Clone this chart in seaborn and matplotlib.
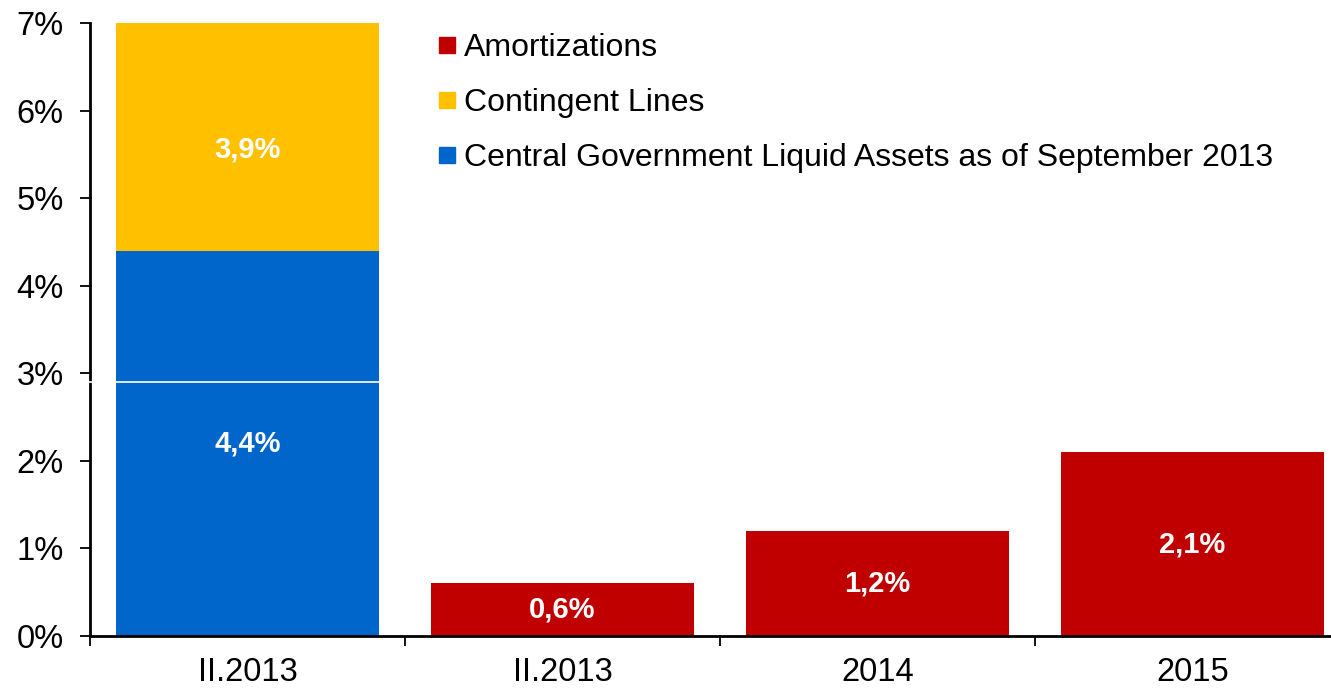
import numpy as np
import pandas as pd
import matplotlib
matplotlib.use("Agg")
import matplotlib.pyplot as plt
from matplotlib.lines import Line2D
import seaborn as sns

# Chart data (percent of GDP)
periods = ["II.2013", "II.2013", "2014", "2015"]
liquid_assets = [4.4, 0.0, 0.0, 0.0]
contingent_lines = [3.9, 0.0, 0.0, 0.0]
amortizations = [0.0, 0.6, 1.2, 2.1]
y_ticks = [0, 1, 2, 3, 4, 5, 6, 7]

series_names = ["Amortizations", "Contingent Lines",
                "Central Government Liquid Assets as of September 2013"]
colors = {"Amortizations": "#C00000", "Contingent Lines": "#FFC000",
          "Central Government Liquid Assets as of September 2013": "#0066CC"}

sns.set_theme(style="white")
plt.rcParams["font.family"] = ["Liberation Sans", "DejaVu Sans"]
plt.rcParams["text.color"] = "black"
plt.rcParams["xtick.color"] = "black"
plt.rcParams["ytick.color"] = "black"

slot = [str(i) for i in range(len(periods))]
df = pd.DataFrame({
    "slot": slot,
    "liquid": liquid_assets,
    "stack_top": np.array(liquid_assets) + np.array(contingent_lines),
    "amort": amortizations,
})

fig = plt.figure(figsize=(13.31, 6.91), dpi=100)
ax = fig.add_axes([90 / 1331, 1 - 636 / 691, 1260 / 1331, 613 / 691])

bw = 0.835
bar_kw = dict(order=slot, width=bw, saturation=1, ax=ax, zorder=2, linewidth=0)
sns.barplot(data=df, x="slot", y="stack_top", color=colors["Contingent Lines"], **bar_kw)
sns.barplot(data=df, x="slot", y="liquid",
            color=colors["Central Government Liquid Assets as of September 2013"], **bar_kw)
sns.barplot(data=df, x="slot", y="amort", color=colors["Amortizations"], **bar_kw)

ymax = 7
ax.set_ylim(0, ymax)
ax.set_xlim(-0.5, 3.5)

# value labels
lab_kw = dict(ha="center", va="center", color="white", fontsize=21, fontweight="bold", zorder=4)
for i in range(len(periods)):
    if liquid_assets[i] > 0:
        ax.text(i, liquid_assets[i] / 2, f"{liquid_assets[i]:.1f}%".replace(".", ","), **lab_kw)
    if contingent_lines[i] > 0:
        top = min(liquid_assets[i] + contingent_lines[i], ymax)
        ax.text(i, liquid_assets[i] + (top - liquid_assets[i]) / 2 - 0.15,
                f"{contingent_lines[i]:.1f}%".replace(".", ","), **lab_kw)
    if amortizations[i] > 0:
        ax.text(i, amortizations[i] / 2, f"{amortizations[i]:.1f}%".replace(".", ","), **lab_kw)

# thin white divider
ax.axhline(2.9, color="white", lw=1.2, zorder=5, xmin=-0.01, xmax=1, clip_on=False)

# axes styling
ax.set_xlabel("")
ax.set_ylabel("")
ax.set_yticks(y_ticks)
ax.set_yticklabels([f"{t}%" for t in y_ticks])
ax.set_xticks(range(len(periods)))
ax.set_xticklabels(periods)
ax.set_xticks(np.arange(-0.5, len(periods), 1.0), minor=True)
ax.tick_params(axis="y", which="major", direction="out", length=7, width=1.3,
               color="black", labelcolor="black", labelsize=23.5, pad=12, left=True)
ax.tick_params(axis="x", which="major", length=0, labelsize=23.5, labelcolor="black", pad=15)
ax.tick_params(axis="x", which="minor", direction="out", length=7, width=1.3,
               color="black", bottom=True)
for s in ["top", "right"]:
    ax.spines[s].set_visible(False)
for s in ["left", "bottom"]:
    ax.spines[s].set_color("black")
    ax.spines[s].set_linewidth(2)
    ax.spines[s].set_zorder(3)
ax.grid(False)

handles = [Line2D([0], [0], marker="s", linestyle="none", markersize=11,
                  markerfacecolor=colors[n], markeredgecolor=colors[n]) for n in series_names]
leg = fig.legend(handles, series_names, loc="upper left",
                 bbox_to_anchor=(438 / 1331, 1 - 33 / 691), frameon=False, fontsize=23,
                 handlelength=0.55, handletextpad=0.25, borderpad=0, borderaxespad=0,
                 labelspacing=0.78)
for t in leg.get_texts():
    t.set_color("black")

fig.savefig("out.png", dpi=100)
